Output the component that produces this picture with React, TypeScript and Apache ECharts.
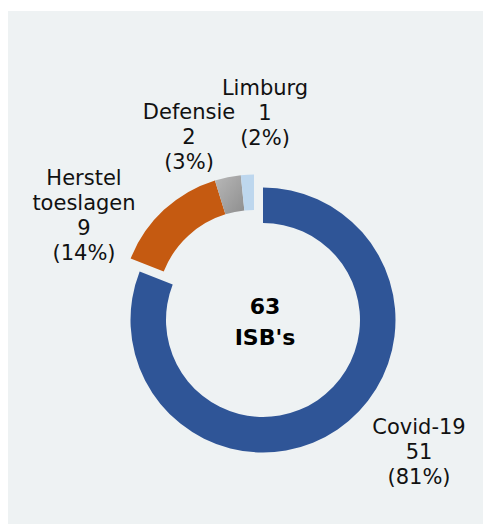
import React, { useEffect, useRef } from "react";
import * as echarts from "echarts";

const categories = ["Covid-19", "Herstel toeslagen", "Defensie", "Limburg"];
const labelNames = ["Covid-19", "Herstel\ntoeslagen", "Defensie", "Limburg"];
const values = [51, 9, 2, 1];
const centerCaption = "ISB's";
// label anchor positions (text block centres), page pixels
const labelPos = [
  [419, 452],
  [84, 215],
  [189, 137],
  [265, 113],
];

const FONT = "'DejaVu Sans', Verdana, sans-serif";

export default function App() {
  const ref = useRef<HTMLDivElement>(null);
  useEffect(() => {
    if (!ref.current) return;
    const chart = echarts.init(ref.current, undefined, { renderer: "svg" });
    const total = values.reduce((a, b) => a + b, 0);
    const colors: any[] = [
      "#2f5597",
      "#c55a11",
      new echarts.graphic.LinearGradient(0, 0, 1, 1, [
        { offset: 0, color: "#b8b8b8" },
        { offset: 1, color: "#8e8e8e" },
      ]),
      "#bdd7ee",
    ];
    const makeSeries = (center: number[], showIdx: (i: number) => boolean) => ({
      type: "pie",
      center,
      radius: [97, 132.5],
      startAngle: 90,
      clockwise: true,
      avoidLabelOverlap: false,
      emphasis: { disabled: true },
      itemStyle: { borderWidth: 0 },
      label: {
        show: true,
        position: "inside",
        fontFamily: FONT,
        fontSize: 21,
        lineHeight: 25,
        color: "#111",
        align: "center",
        formatter: (p: any) =>
          `${labelNames[p.dataIndex]}\n${p.value}\n(${Math.round((p.value / total) * 100)}%)`,
      },
      labelLine: { show: false },
      labelLayout: (p: any) => ({
        x: labelPos[p.dataIndex][0],
        y: labelPos[p.dataIndex][1],
        align: "center",
        verticalAlign: "middle",
      }),
      data: categories.map((c, i) => ({
        name: c,
        value: values[i],
        itemStyle: { color: showIdx(i) ? colors[i] : "rgba(0,0,0,0)" },
        label: { show: showIdx(i) },
      })),
    });
    chart.setOption({
      animation: false,
      backgroundColor: "transparent",
      graphic: [
        {
          type: "text",
          x: 265,
          y: 306,
          style: {
            text: String(total),
            textAlign: "center",
            textVerticalAlign: "middle",
            font: `bold 22px ${FONT}`,
            fill: "#000",
          },
        },
        {
          type: "text",
          x: 265,
          y: 337,
          style: {
            text: centerCaption,
            textAlign: "center",
            textVerticalAlign: "middle",
            font: `bold 22px ${FONT}`,
            fill: "#000",
          },
        },
      ],
      series: [
        makeSeries([263, 320], (i) => i === 0),
        makeSeries([254, 307], (i) => i !== 0),
      ],
    });
    return () => chart.dispose();
  }, []);
  return (
    <div style={{ position: "fixed", left: 0, top: 0, width: 483, height: 524, background: "#fff" }}>
      <div style={{ position: "absolute", left: 8, top: 11, right: 0, bottom: 0, background: "#eef2f3" }} />
      <div ref={ref} style={{ position: "absolute", left: 0, top: 0, width: 483, height: 524 }} />
    </div>
  );
}
